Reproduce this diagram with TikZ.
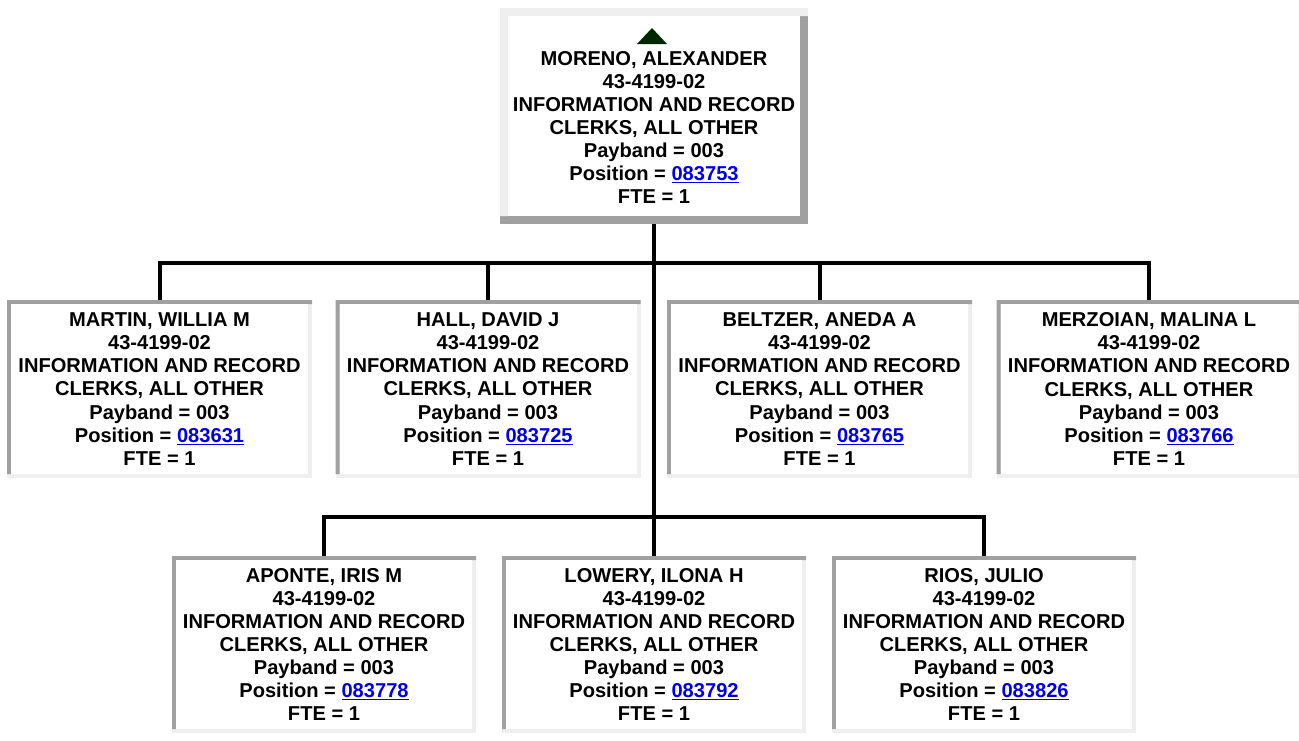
\documentclass[tikz,border=0pt]{standalone}
\usepackage{fontspec}
\setmainfont{Liberation Sans}
\definecolor{borddark}{RGB}{160,160,160}
\definecolor{bordlight}{RGB}{239,239,239}
\definecolor{linkblue}{RGB}{0,0,238}
\definecolor{triagreen}{RGB}{0,40,0}
\newcommand{\poslink}[1]{\textcolor{linkblue}{\underline{#1}}}
\newcommand{\cardtext}[2]{#1\\43-4199-02\\INFORMATION AND RECORD\\CLERKS, ALL OTHER\\Payband = 003\\Position = \poslink{#2}\\FTE = 1}
\tikzset{
  cardfont/.style={font=\bfseries\fontsize{20.1}{23.1}\selectfont, align=center, text=black},
  sunken/.style={rectangle, inner sep=0pt, outer sep=0pt, minimum width=305pt, minimum height=178pt,
    fill=bordlight, cardfont,
    path picture={
      \fill[borddark] (path picture bounding box.north west) -- (path picture bounding box.north east)
        -- ([yshift=-4pt]path picture bounding box.north east) -- ([xshift=4pt,yshift=-4pt]path picture bounding box.north west)
        -- ([xshift=4pt,yshift=4pt]path picture bounding box.south west) -- ([yshift=4pt]path picture bounding box.south west) -- cycle;
      \fill[white] ([xshift=4pt,yshift=-4pt]path picture bounding box.north west) rectangle ([xshift=-4pt,yshift=4pt]path picture bounding box.south east);
    }},
  raised/.style={rectangle, inner sep=0pt, outer sep=0pt, minimum width=308pt, minimum height=216pt,
    fill=borddark,
    path picture={
      \fill[bordlight] (path picture bounding box.north west) -- (path picture bounding box.north east)
        -- ([yshift=-8pt]path picture bounding box.north east) -- ([xshift=8pt,yshift=-8pt]path picture bounding box.north west)
        -- ([xshift=8pt,yshift=8pt]path picture bounding box.south west) -- ([yshift=8pt]path picture bounding box.south west) -- cycle;
      \fill[white] ([xshift=8pt,yshift=-8pt]path picture bounding box.north west) rectangle ([xshift=-8pt,yshift=8pt]path picture bounding box.south east);
    }},
  conn/.style={draw=black, line width=4pt}
}
\begin{document}
\begin{tikzpicture}[x=1pt,y=-1pt]
\useasboundingbox[fill=white] (0,0) rectangle (1299,740);
% top box
\node[raised] (top) at (654,116) {};
\fill[triagreen] (637,44) -- (652,28) -- (667,44) -- cycle;
\node[cardfont, inner sep=0pt] (toptext) at (654,127.5) {\cardtext{MORENO, ALEXANDER}{083753}};
% first row
\node[sunken] (c1) at (159.5,389) {\cardtext{MARTIN, WILLIA M}{083631}};
\node[sunken] (c2) at (488,389) {\cardtext{HALL, DAVID J}{083725}};
\node[sunken] (c3) at (819.5,389) {\cardtext{BELTZER, ANEDA A}{083765}};
\node[sunken] (c4) at (1149,389) {\cardtext{MERZOIAN, MALINA L}{083766}};
% second row
\node[sunken, minimum width=304pt, minimum height=177pt] (b1) at (324,644.5) {\cardtext{APONTE, IRIS M}{083778}};
\node[sunken, minimum width=304pt, minimum height=177pt] (b2) at (654,644.5) {\cardtext{LOWERY, ILONA H}{083792}};
\node[sunken, minimum width=304pt, minimum height=177pt] (b3) at (984,644.5) {\cardtext{RIOS, JULIO}{083826}};
% connectors
\coordinate (bus1) at (654,263);
\coordinate (bus2) at (654,516.5);
\draw[conn] (top.south) -- (b2.north);
\draw[conn] (c1.north) |- (bus1) -| (c4.north);
\draw[conn] (c2.north) -- (c2.north |- bus1);
\draw[conn] (c3.north) -- (c3.north |- bus1);
\draw[conn] (b1.north) |- (bus2) -| (b3.north);
\end{tikzpicture}
\end{document}
